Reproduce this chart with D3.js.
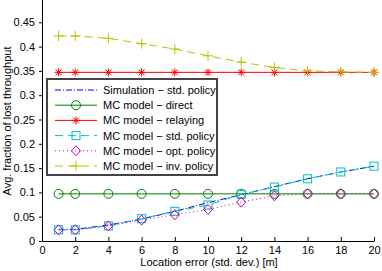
<!DOCTYPE html>
<html>
<head>
<meta charset="utf-8">
<script src="https://cdn.jsdelivr.net/npm/d3@7"></script>
<style>
  body { margin: 0; background: #fff; }
  text { font-family: "Liberation Sans", Arial, sans-serif; }
</style>
</head>
<body>
<div id="container"></div>
<script>
/* CONSTANTS AND GLOBALS */
const width = 382, height = 271;
const margin = {top: -2, left: 42, bottom: 30, right: 8};

/* DATA */
const xVals = [1, 2, 4, 6, 8, 10, 12, 14, 16, 18, 20];
const simStd   = [0.024, 0.024, 0.033, 0.045, 0.061, 0.079, 0.095, 0.112, 0.128, 0.142, 0.154];
const mcDirect = [0.097, 0.097, 0.097, 0.097, 0.097, 0.097, 0.097, 0.097, 0.097, 0.097, 0.097];
const mcRelay  = [0.347, 0.347, 0.347, 0.347, 0.347, 0.347, 0.347, 0.347, 0.347, 0.347, 0.347];
const mcStd    = [0.023, 0.023, 0.031, 0.046, 0.061, 0.074, 0.096, 0.111, 0.128, 0.142, 0.154];
const mcOpt    = [0.023, 0.023, 0.031, 0.043, 0.054, 0.065, 0.080, 0.093, 0.097, 0.097, 0.097];
const mcInv    = [0.422, 0.422, 0.417, 0.406, 0.395, 0.381, 0.368, 0.357, 0.350, 0.348, 0.347];
const xTicks = [0, 2, 4, 6, 8, 10, 12, 14, 16, 18, 20];
const yTicks = [0, 0.05, 0.1, 0.15, 0.2, 0.25, 0.3, 0.35, 0.4, 0.45];

const series = [
  {name: "Simulation \u2212 std. policy", values: simStd, color: "#0000ff", dash: "6,2,1,2", marker: "none"},
  {name: "MC model \u2212 direct", values: mcDirect, color: "#008000", dash: null, marker: "circle"},
  {name: "MC model \u2212 relaying", values: mcRelay, color: "#ff0000", dash: null, marker: "star"},
  {name: "MC model \u2212 std. policy", values: mcStd, color: "#00bfbf", dash: "8,5", marker: "square"},
  {name: "MC model \u2212 opt. policy", values: mcOpt, color: "#bf00bf", dash: "1,3", marker: "diamond"},
  {name: "MC model \u2212 inv. policy", values: mcInv, color: "#bfbf00", dash: "8,5", marker: "plus"}
];

// SCALES
const xScale = d3.scaleLinear().domain([0, 20]).range([margin.left, width - margin.right]);
const yScale = d3.scaleLinear().domain([0, 0.5]).range([height - margin.bottom, margin.top]);

// SVG
const svg = d3.select("#container").append("svg")
  .attr("width", width).attr("height", height);

// AXES
const xAxis = d3.axisBottom(xScale).tickValues(xTicks).tickSizeInner(-4).tickSizeOuter(0).tickPadding(5);
const yAxis = d3.axisLeft(yScale).tickValues(yTicks).tickSizeInner(3).tickSizeOuter(0)
  .tickFormat(d => d === 0 ? "0" : String(d));

const gx = svg.append("g")
  .attr("transform", `translate(0,${height - margin.bottom})`)
  .call(xAxis);
const gy = svg.append("g")
  .attr("transform", `translate(${margin.left},0)`)
  .call(yAxis);
[gx, gy].forEach(g => {
  g.selectAll("path, line").attr("stroke", "#000");
  g.selectAll("text").attr("font-size", 11).attr("fill", "#000")
    .style("font-family", "'Liberation Sans', Arial, sans-serif");
});
gy.selectAll("text").attr("dx", -1);

// AXIS LABELS
svg.append("text")
  .attr("x", 209).attr("y", 266)
  .attr("text-anchor", "middle").attr("font-size", 11)
  .text("Location error (std. dev.) [m]");
svg.append("text")
  .attr("transform", "translate(10.5,121) rotate(-90)")
  .attr("text-anchor", "middle").attr("font-size", 11)
  .text("Avg. fraction of lost throughput");

// MARKERS
function drawMarker(g, type, x, y, color) {
  if (type === "circle") {
    g.append("circle").attr("cx", x).attr("cy", y).attr("r", 4.5)
      .attr("fill", "none").attr("stroke", color);
  } else if (type === "square") {
    g.append("rect").attr("x", x - 4).attr("y", y - 4).attr("width", 8).attr("height", 8)
      .attr("fill", "none").attr("stroke", color);
  } else if (type === "diamond") {
    g.append("path").attr("d", `M${x},${y - 5}L${x + 4.5},${y}L${x},${y + 5}L${x - 4.5},${y}Z`)
      .attr("fill", "none").attr("stroke", color);
  } else if (type === "plus") {
    g.append("path").attr("d", `M${x - 5},${y}H${x + 5}M${x},${y - 5}V${y + 5}`)
      .attr("fill", "none").attr("stroke", color);
  } else if (type === "star") {
    g.append("path").attr("d",
      `M${x - 4},${y}H${x + 4}M${x},${y - 4}V${y + 4}M${x - 3},${y - 3}L${x + 3},${y + 3}M${x - 3},${y + 3}L${x + 3},${y - 3}`)
      .attr("fill", "none").attr("stroke", color);
  }
}

// LINES
const lineGen = d3.line().x((d, i) => xScale(xVals[i])).y(d => yScale(d));

series.forEach(s => {
  const g = svg.append("g");
  g.append("path")
    .attr("d", lineGen(s.values))
    .attr("fill", "none")
    .attr("stroke", s.color)
    .attr("stroke-width", 1)
    .attr("stroke-dasharray", s.dash);
  s.values.forEach((v, i) => drawMarker(g, s.marker, xScale(xVals[i]), yScale(v), s.color));
});

// LEGEND
const lx = 47, ly = 79, lw = 170, lh = 96;
const legend = svg.append("g");
legend.append("rect")
  .attr("x", lx).attr("y", ly).attr("width", lw).attr("height", lh)
  .attr("fill", "#fff").attr("stroke", "#444").attr("stroke-width", 2);
series.forEach((s, i) => {
  const y = 90 + i * 15.2;
  legend.append("line")
    .attr("x1", 55).attr("x2", 97).attr("y1", y).attr("y2", y)
    .attr("stroke", s.color).attr("stroke-dasharray", s.dash);
  drawMarker(legend, s.marker, 76, y, s.color);
  legend.append("text")
    .attr("x", 103).attr("y", y + 4)
    .attr("font-size", 11)
    .text(s.name);
});
</script>
</body>
</html>
